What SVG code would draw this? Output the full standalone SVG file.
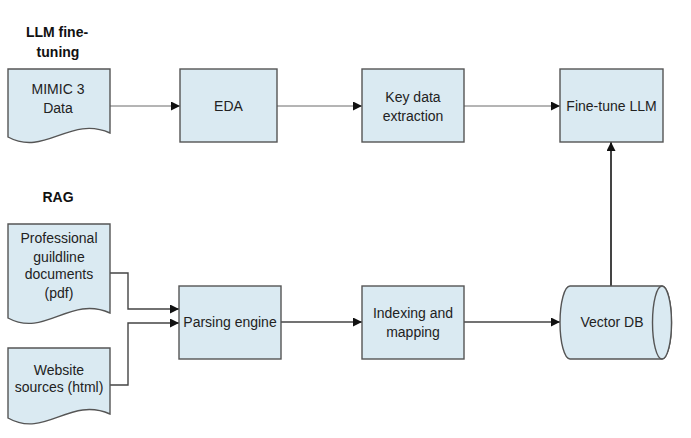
<svg xmlns="http://www.w3.org/2000/svg" width="691" height="438" viewBox="0 0 691 438">
<style>
.bg{fill:#ffffff}
.shape{fill:#daeaf2;stroke:#555555;stroke-width:1.4}
.lbl{font-family:"Liberation Sans",Arial,sans-serif;font-size:14px;fill:#222222;text-anchor:middle}
.hd{font-family:"Liberation Sans",Arial,sans-serif;font-size:14px;font-weight:bold;fill:#111111;text-anchor:middle}
.thin{fill:none;stroke:#6a6a6a;stroke-width:1}
.mid{fill:none;stroke:#444444;stroke-width:1.4}
.thick{fill:none;stroke:#444444;stroke-width:2}
</style>
<defs>
<marker id="ah" viewBox="0 0 10 10" refX="10" refY="5" markerWidth="9" markerHeight="9" markerUnits="userSpaceOnUse" orient="auto">
<path d="M0,0 L10,5 L0,10 Z" fill="#111111"/>
</marker>
</defs>
<rect class="bg" x="0" y="0" width="691" height="438"/>

<g id="heading-llm">
<text class="hd" x="57" y="37">LLM fine-</text>
<text class="hd" x="58" y="57">tuning</text>
</g>
<g id="heading-rag">
<text class="hd" x="58" y="202">RAG</text>
</g>

<g id="connectors">
<line class="thin" x1="110" y1="106" x2="180" y2="106" marker-end="url(#ah)"/>
<line class="thin" x1="277" y1="106" x2="362" y2="106" marker-end="url(#ah)"/>
<line class="thin" x1="464" y1="106" x2="560" y2="106" marker-end="url(#ah)"/>
<polyline class="mid" points="110,273 128,273 128,309 179,309" marker-end="url(#ah)"/>
<polyline class="mid" points="110,385 128,385 128,323 179,323" marker-end="url(#ah)"/>
<line class="mid" x1="281" y1="322" x2="362" y2="322" marker-end="url(#ah)"/>
<line class="mid" x1="464" y1="322" x2="560" y2="322" marker-end="url(#ah)"/>
<line class="thick" x1="611" y1="286" x2="611" y2="142" marker-end="url(#ah)"/>
</g>

<g id="mimic">
<path class="shape" d="M8,69 H110 V133 C70,115 45,157 8,137 Z"/>
<text class="lbl" x="58" y="94">MIMIC 3</text>
<text class="lbl" x="58" y="113">Data</text>
</g>
<g id="eda">
<rect class="shape" x="180" y="69" width="97" height="73"/>
<text class="lbl" x="228.5" y="111">EDA</text>
</g>
<g id="keydata">
<rect class="shape" x="362" y="69" width="102" height="73"/>
<text class="lbl" x="413" y="102">Key data</text>
<text class="lbl" x="413" y="121">extraction</text>
</g>
<g id="finetune">
<rect class="shape" x="560" y="69" width="103" height="73"/>
<text class="lbl" x="611.5" y="111">Fine-tune LLM</text>
</g>

<g id="pdf">
<path class="shape" d="M8,224 H110 V313 C70,295 45,338 8,318 Z"/>
<text class="lbl" x="59" y="243">Professional</text>
<text class="lbl" x="59" y="262">guildline</text>
<text class="lbl" x="59" y="279">documents</text>
<text class="lbl" x="59" y="298">(pdf)</text>
</g>
<g id="website">
<path class="shape" d="M8,348 H110 V414 C70,396 45,439 8,418 Z"/>
<text class="lbl" x="59" y="375">Website</text>
<text class="lbl" x="59" y="392">sources (html)</text>
</g>

<g id="parsing">
<rect class="shape" x="179" y="286" width="102" height="73"/>
<text class="lbl" x="230" y="327">Parsing engine</text>
</g>
<g id="indexing">
<rect class="shape" x="362" y="286" width="102" height="73"/>
<text class="lbl" x="413" y="318">Indexing and</text>
<text class="lbl" x="413" y="337">mapping</text>
</g>
<g id="vectordb">
<path class="shape" d="M570,286 H662 A9.5,36.5 0 0 1 662,359 H570 A10,36.5 0 0 1 570,286 Z"/>
<ellipse class="shape" cx="662" cy="322.5" rx="9.5" ry="36.5"/>
<text class="lbl" x="612" y="327">Vector DB</text>
</g>
</svg>
